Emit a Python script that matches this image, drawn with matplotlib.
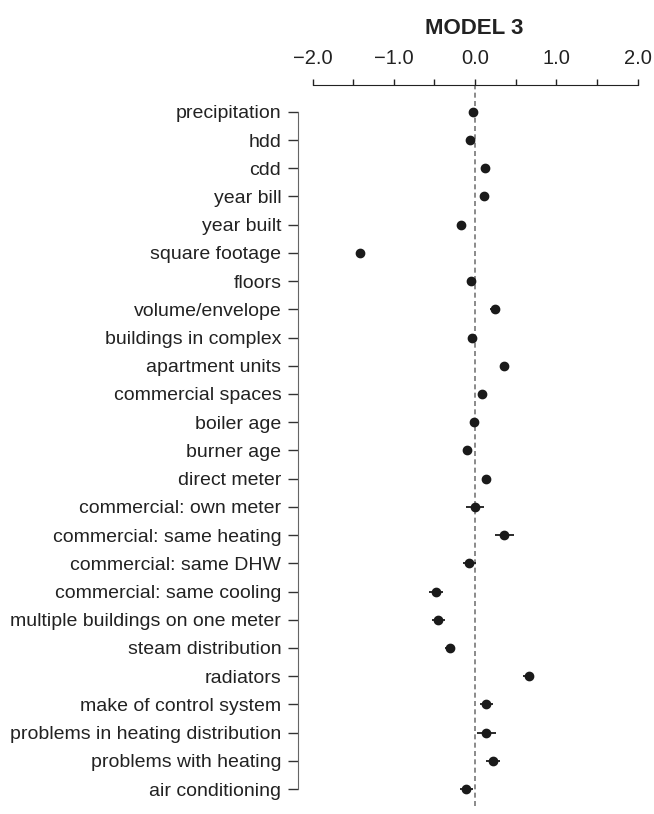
import numpy as np
import matplotlib
matplotlib.use("Agg")
import matplotlib.pyplot as plt

plt.rcParams['font.family'] = ['Liberation Sans', 'DejaVu Sans']

labels = ['precipitation', 'hdd', 'cdd', 'year bill', 'year built',
          'square footage', 'floors', 'volume/envelope',
          'buildings in complex', 'apartment units', 'commercial spaces',
          'boiler age', 'burner age', 'direct meter',
          'commercial: own meter', 'commercial: same heating',
          'commercial: same DHW', 'commercial: same cooling',
          'multiple buildings on one meter', 'steam distribution',
          'radiators', 'make of control system',
          'problems in heating distribution', 'problems with heating',
          'air conditioning']
coef = [-0.02, -0.06, 0.12, 0.11, -0.17, -1.42, -0.05, 0.24, -0.04, 0.36,
        0.09, -0.01, -0.10, 0.14, 0.00, 0.36, -0.07, -0.48, -0.45, -0.31,
        0.66, 0.14, 0.14, 0.22, -0.11]
err = [0.02, 0.02, 0.02, 0.02, 0.02, 0.05, 0.02, 0.06, 0.02, 0.02, 0.02,
       0.02, 0.02, 0.06, 0.11, 0.12, 0.08, 0.09, 0.08, 0.065, 0.07, 0.08,
       0.12, 0.09, 0.08]
xticks = [-2.0, -1.0, 0.0, 1.0, 2.0]

W, H = 654, 814
fig = plt.figure(figsize=(W/100, H/100), dpi=100)
ax = fig.add_axes([312.5/W, 8/H, (637.5-312.5)/W, (806-85)/H])

y = np.arange(len(labels))
ax.axvline(0, color='#777777', lw=1.2, ls=(0, (3, 2)), zorder=1)
ax.errorbar(coef, y, xerr=err, fmt='o', color='#1a1a1a', ms=6,
            ecolor='#1a1a1a', elinewidth=1.3, capsize=0, zorder=3)

ax.set_xlim(-2, 2)
ax.set_ylim(24.6, -0.95)

ax.xaxis.tick_top()
ax.set_xticks(xticks)
ax.set_xticklabels(['\u22122.0', '\u22121.0', '0.0', '1.0', '2.0'])
ax.set_xticks(np.arange(-2, 2.01, 0.5), minor=True)
ax.tick_params(axis='x', which='both', length=4.5, width=1, color='#222222',
               labelsize=14.5, pad=7.5, labelcolor='#222222')
ax.set_yticks(y)
ax.set_yticklabels(labels)
ax.tick_params(axis='y', length=7, width=1, color='#333333',
               labelsize=14, pad=5, labelcolor='#222222')

for s in ['right', 'bottom']:
    ax.spines[s].set_visible(False)
ax.spines['top'].set_bounds(-2, 2)
ax.spines['top'].set_color('#222222')
ax.spines['left'].set_bounds(0, 24)
ax.spines['left'].set_position(('outward', 10.5))
ax.spines['left'].set_color('#666666')

fig.text(474.5/W, 1 - 28/H, 'MODEL 3', fontsize=16, fontweight='bold',
         color='#222222', ha='center', va='center')

fig.savefig('out.png', dpi=100)
